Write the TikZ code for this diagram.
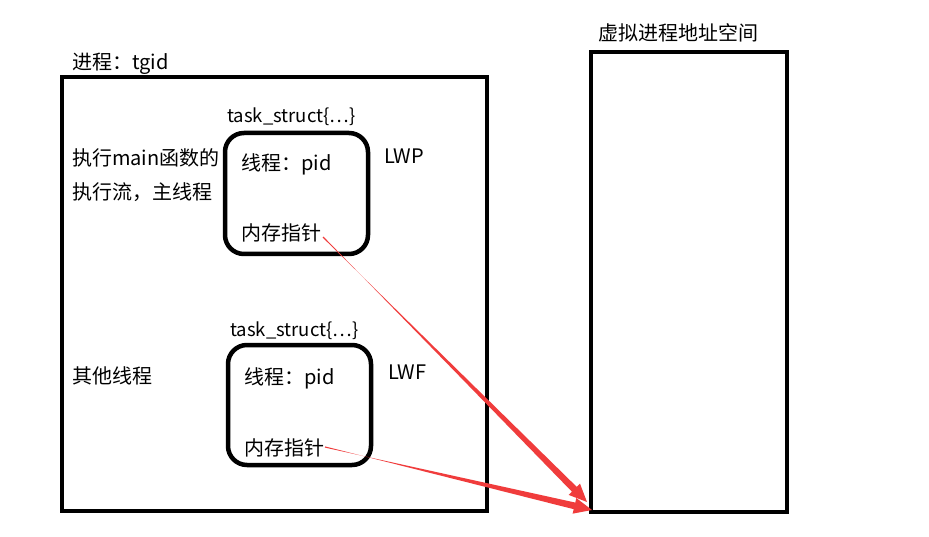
\documentclass[tikz,border=0pt]{standalone}
\usepackage{fontspec}
\setmainfont{Noto Sans CJK SC}
\usetikzlibrary{calc}
\definecolor{arrred}{RGB}{240,60,60}
\tikzset{
  box/.style={draw=black,line width=4pt},
  rbox/.style={draw=black,line width=4.5pt,rounded corners=19pt},
  lbl/.style={anchor=base west,inner sep=0pt,font=\fontsize{20}{24}\selectfont},
  tlbl/.style={anchor=base west,inner sep=0pt,font=\fontsize{18.5}{22}\selectfont},
}
\newcommand{\taperarrow}[2]{%
  \fill[arrred]
    ($(#1)!0.6pt!90:(#2)$) --
    ($($(#2)!18pt!(#1)$)!3.4pt!-90:(#2)$) --
    ($($(#2)!18pt!(#1)$)!8pt!-90:(#2)$) --
    (#2) --
    ($($(#2)!18pt!(#1)$)!8pt!90:(#2)$) --
    ($($(#2)!18pt!(#1)$)!3.4pt!90:(#2)$) --
    ($(#1)!0.6pt!-90:(#2)$) -- cycle;}
\begin{document}
\begin{tikzpicture}[x=1pt,y=-1pt]
\useasboundingbox[fill=white] (0,0) rectangle (929,537);
% boxes
\draw[box] (62,77) rectangle (487,511);
\draw[box] (591,52) rectangle (787,512);
\draw[rbox] (225,133) rectangle (368,254);
\draw[rbox] (228,345) rectangle (371,465);
% labels
\node[lbl] (proc) at (72,70) {进程：tgid};
\node[lbl] (vas) at (598,41) {虚拟进程地址空间};
\node[tlbl] (ts1) at (227,122.5) {task\_struct\{…\}};
\node[tlbl] (ts2) at (230,336) {task\_struct\{…\}};
\node[lbl] (pid1) at (241,170.5) {线程：pid};
\node[lbl] (pid2) at (244,384) {线程：pid};
\node[lbl] (mem1) at (241,241) {内存指针};
\node[lbl] (mem2) at (244,455) {内存指针};
\node[lbl] (lwp) at (384,164) {LWP};
\node[lbl] (lwf) at (388,379) {LWF};
\node[lbl] (main1) at (72,166) {执行main函数的};
\node[lbl] (main2) at (72,200) {执行流，主线程};
\node[lbl] (other) at (72,383) {其他线程};
% arrows
\coordinate (a1s) at (323,237);
\coordinate (a1e) at (587,502);
\coordinate (a2s) at (325,447);
\coordinate (a2e) at (592,510);
\taperarrow{a1s}{a1e}
\taperarrow{a2s}{a2e}
\end{tikzpicture}
\end{document}
